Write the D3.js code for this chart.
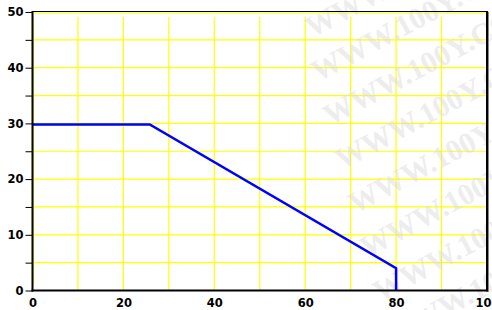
<!DOCTYPE html>
<html><head><meta charset="utf-8">
<script src="https://cdn.jsdelivr.net/npm/d3@7"></script>
<style>html,body{margin:0;padding:0;background:#fff;overflow:hidden}svg{display:block}</style>
</head><body>
<script>
const lineX = [0, 25.8, 80, 80];
const lineY = [29.8, 29.8, 4, 0];
const xTickLabels = [0, 20, 40, 60, 80, 100];
const yTickLabels = [0, 10, 20, 30, 40, 50];
const xGrid = [0, 10, 20, 30, 40, 50, 60, 70, 80, 90];
const yGrid = [5, 10, 15, 20, 25, 30, 35, 40, 45, 50];
const yMinorTicks = [0, 5, 10, 15, 20, 25, 30, 35, 40, 45, 50];
const watermarkText = "WWW.100Y.COM.CN";

const W = 492, H = 310;
const svg = d3.select("body").append("svg").attr("width", W).attr("height", H);
const x = d3.scaleLinear().domain([0, 100]).range([32.5, 487]);
const y = d3.scaleLinear().domain([0, 50]).range([290.5, 12]);

// grid
svg.append("g").selectAll("line").data(xGrid).join("line")
  .attr("x1", d => x(d) + (d === 0 ? 1 : 0)).attr("x2", d => x(d) + (d === 0 ? 1 : 0))
  .attr("y1", 17).attr("y2", d => d === 0 ? 285 : y(0))
  .attr("stroke", "#ffff00").attr("stroke-width", 1.2);
svg.append("g").selectAll("line").data(yGrid).join("line")
  .attr("x1", x(0)).attr("x2", x(100))
  .attr("y1", d => y(d) + (d === 50 ? 1 : 0)).attr("y2", d => y(d) + (d === 50 ? 1 : 0))
  .attr("stroke", "#ffff00").attr("stroke-width", 1.2);

// watermark
const wm = svg.append("g").attr("opacity", 0.5);
const wmPos = [[312, 38], [318, 82], [330, 126], [342, 170], [355, 214], [367, 258], [380, 302], [392, 346]];
wm.selectAll("text").data(wmPos).join("text")
  .attr("transform", d => `translate(${d[0]},${d[1]}) rotate(-28)`)
  .attr("font-family", "Liberation Serif, serif").attr("font-weight", "bold")
  .attr("font-size", 30).attr("fill", "#dcdcdc").text(watermarkText);

// frame
svg.append("line").attr("x1", x(0)).attr("x2", x(100) + 1).attr("y1", 11.5).attr("y2", 11.5)
  .attr("stroke", "#000").attr("stroke-width", 1);
svg.append("line").attr("x1", 487).attr("x2", 487).attr("y1", 11).attr("y2", 291.5)
  .attr("stroke", "#000").attr("stroke-width", 2);
svg.append("line").attr("x1", 488.5).attr("x2", 488.5).attr("y1", 12).attr("y2", 292)
  .attr("stroke", "#888").attr("stroke-width", 1);

// line
const pts = lineX.map((v, i) => [v, lineY[i]]);
svg.append("path").datum(pts)
  .attr("d", d3.line().x(d => x(d[0])).y(d => y(d[1])))
  .attr("fill", "none").attr("stroke", "#0000ff").attr("stroke-width", 2.5);

// axes
const yAxis = d3.axisLeft(y).tickValues(yMinorTicks).tickSize(7).tickPadding(2)
  .tickFormat(d => yTickLabels.includes(d) ? d : "");
const gy = svg.append("g").attr("transform", `translate(${x(0)},0)`).call(yAxis);
gy.select(".domain").attr("stroke-width", 2).attr("d", `M0,${y(50) - 1}V${y(0) + 1}`);
gy.selectAll("text").attr("font-family", "DejaVu Sans, Verdana, sans-serif").attr("font-weight", "bold")
  .attr("font-size", 11.5).attr("fill", "#000");
gy.selectAll(".tick line").attr("stroke", "#000");

const xAxis = d3.axisBottom(x).tickValues(xTickLabels).tickSize(0).tickPadding(8);
const gx = svg.append("g").attr("transform", `translate(0,${y(0)})`).call(xAxis);
gx.select(".domain").attr("stroke-width", 2).attr("d", `M${x(0) - 1},0H${x(100) + 1}`);
gx.selectAll("text").attr("font-family", "DejaVu Sans, Verdana, sans-serif").attr("font-weight", "bold")
  .attr("font-size", 11.5).attr("fill", "#000");
</script>
</body></html>
